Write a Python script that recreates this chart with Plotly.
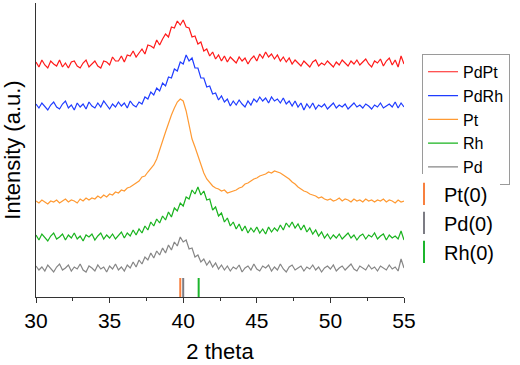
import numpy as np
import plotly.graph_objects as go

# 2 theta sampling grid (0.2 deg step), stacked patterns in a.u.
two_theta = np.linspace(30, 55, 126)

pdpt = [235, 230, 237, 232, 229, 236, 233, 231, 237, 230, 234, 229, 235, 236, 231, 229, 234, 237, 230, 233,
        236, 231, 229, 236, 235, 232, 240, 236, 236, 241, 235, 242, 241, 246, 240, 244, 248, 243, 252, 251,
        249, 257, 252, 258, 263, 260, 270, 269, 276, 272, 277, 270, 269, 260, 261, 253, 255, 246, 248, 241,
        245, 238, 242, 236, 241, 235, 240, 237, 234, 240, 236, 239, 233, 238, 241, 236, 243, 239, 245, 240,
        243, 238, 242, 236, 240, 235, 239, 233, 237, 234, 231, 236, 233, 230, 235, 237, 231, 234, 232, 236,
        233, 230, 235, 232, 237, 234, 231, 236, 233, 237, 232, 235, 238, 233, 230, 236, 234, 238, 231, 236,
        239, 232, 237, 230, 241, 233]
pdrh = [193, 189, 194, 190, 187, 192, 195, 190, 188, 193, 196, 189, 192, 187, 194, 190, 193, 188, 195, 191,
        189, 194, 190, 196, 192, 188, 193, 190, 195, 191, 194, 189, 196, 192, 190, 195, 193, 200, 198, 205,
        202, 209, 206, 214, 211, 220, 219, 228, 226, 235, 233, 242, 236, 239, 229, 229, 219, 219, 210, 211,
        203, 204, 197, 201, 195, 198, 191, 196, 192, 197, 193, 190, 196, 192, 198, 195, 200, 196, 199, 194,
        200, 196, 198, 194, 199, 193, 196, 191, 196, 190, 194, 187, 193, 189, 194, 188, 192, 190, 193, 188,
        191, 194, 189, 192, 190, 193, 188, 191, 194, 190, 192, 189, 193, 191, 188, 192, 190, 194, 189, 191,
        193, 190, 195, 189, 194, 190]
pt = [96, 94, 97, 95, 93, 96, 95, 97, 94, 96, 98, 95, 97, 96, 94, 98, 96, 99, 97, 99,
      98, 101, 99, 102, 100, 103, 102, 105, 104, 107, 106, 109, 110, 112, 114, 116, 120, 121, 125, 128,
      132, 138, 146, 156, 165, 174, 182, 189, 195, 198, 196, 186, 170, 158, 150, 141, 131, 124, 118, 114,
      111, 109, 108, 106, 107, 104, 105, 106, 107, 109, 110, 113, 114, 116, 118, 119, 121, 122, 123, 125,
      124, 126, 125, 124, 122, 120, 118, 115, 113, 110, 108, 106, 105, 103, 102, 101, 99, 100, 98, 97,
      98, 96, 97, 99, 96, 98, 97, 95, 98, 96, 97, 95, 98, 96, 97, 95, 97, 96, 98, 95,
      97, 96, 94, 97, 95, 96]
rh = [62, 57, 63, 59, 56, 61, 64, 58, 60, 63, 57, 62, 59, 64, 58, 61, 56, 62, 60, 63,
      57, 61, 64, 58, 62, 59, 63, 58, 62, 65, 59, 64, 61, 67, 62, 68, 64, 71, 67, 75,
      71, 78, 74, 81, 77, 85, 80, 89, 86, 94, 91, 100, 98, 107, 103, 110, 102, 106, 97, 98,
      87, 90, 81, 84, 75, 79, 71, 75, 68, 73, 66, 71, 64, 69, 65, 70, 64, 68, 63, 70,
      65, 69, 66, 72, 67, 74, 70, 75, 69, 73, 67, 72, 65, 69, 63, 67, 61, 65, 59, 63,
      58, 62, 59, 63, 58, 61, 64, 59, 62, 57, 61, 63, 58, 62, 60, 64, 58, 61, 63, 57,
      62, 59, 61, 58, 66, 57]
pd_ = [31, 27, 30, 26, 32, 28, 25, 30, 33, 27, 29, 32, 26, 30, 28, 33, 27, 25, 31, 29,
       26, 32, 28, 30, 25, 31, 28, 33, 27, 30, 26, 32, 29, 35, 30, 37, 33, 40, 37, 44,
       39, 46, 42, 49, 44, 52, 47, 55, 51, 60, 55, 57, 48, 49, 40, 42, 35, 38, 32, 36,
       30, 34, 28, 32, 27, 31, 26, 30, 28, 32, 25, 29, 31, 27, 33, 28, 26, 31, 29, 32,
       26, 30, 27, 33, 28, 25, 30, 32, 27, 29, 31, 26, 30, 28, 32, 27, 30, 25, 29, 31,
       28, 32, 26, 29, 31, 27, 30, 33, 28, 26, 31, 29, 27, 32, 28, 30, 26, 31, 29, 27,
       32, 28, 30, 26, 38, 29]

samples = ["PdPt", "PdRh", "Pt", "Rh", "Pd"]
sample_colors = ["#ff1a1a", "#1f3cff", "#ff9a33", "#19b31e", "#868686"]

# reference (111) reflections
refs = ["Pt(0)", "Pd(0)", "Rh(0)"]
ref_pos = [39.8, 40.0, 41.05]
ref_height = 19
ref_colors = ["#f8803f", "#7c7c84", "#1cb52c"]

FONT = "Arial, Liberation Sans, sans-serif"

fig = go.Figure()
for name, y, c in zip(samples, [pdpt, pdrh, pt, rh, pd_], sample_colors):
    fig.add_trace(go.Scatter(x=two_theta, y=y, mode="lines", name=name,
                             line=dict(color=c, width=1.2), legend="legend"))

for name, p, c in zip(refs, ref_pos, ref_colors):
    fig.add_trace(go.Scatter(x=[p, p], y=[0, ref_height], mode="lines",
                             line=dict(color=c, width=2), showlegend=False))
    fig.add_trace(go.Scatter(x=[None], y=[None], mode="markers", name=name, legend="legend2",
                             marker=dict(symbol="line-ns", size=20, color=c,
                                         line=dict(color=c, width=2))))

fig.update_layout(
    width=520, height=365,
    margin=dict(l=36, r=116, t=3, b=68),
    plot_bgcolor="white", paper_bgcolor="white",
    font=dict(family=FONT, color="black"),
    legend=dict(x=1.049, y=0.827, xanchor="left", yanchor="top",
                bordercolor="#9a9a9a", borderwidth=1, font=dict(size=16),
                tracegroupgap=0),
    legend2=dict(x=1.0, y=0.417, xanchor="left", yanchor="top",
                 borderwidth=0, font=dict(size=20)),
)
fig.update_xaxes(
    range=[30, 55], showline=True, linecolor="#333", linewidth=1,
    ticks="outside", ticklen=5, tickcolor="#333", dtick=5,
    minor=dict(ticks="outside", ticklen=3, dtick=2.5, tickcolor="#333"),
    tickfont=dict(size=21), showgrid=False, zeroline=False, automargin=False,
    title=dict(text="2 theta", font=dict(size=22), standoff=12),
)
fig.update_yaxes(
    range=[0, 294], showline=True, linecolor="#333", linewidth=1,
    showticklabels=False, ticks="", showgrid=False, zeroline=False, automargin=False,
    title=dict(text="Intensity (a.u.)", font=dict(size=22), standoff=12),
)

# drop the page's default body margin so the figure sits at the top-left corner
fig.write_html("out.html", config={"displayModeBar": False},
               post_script="document.body.style.margin='0';")
